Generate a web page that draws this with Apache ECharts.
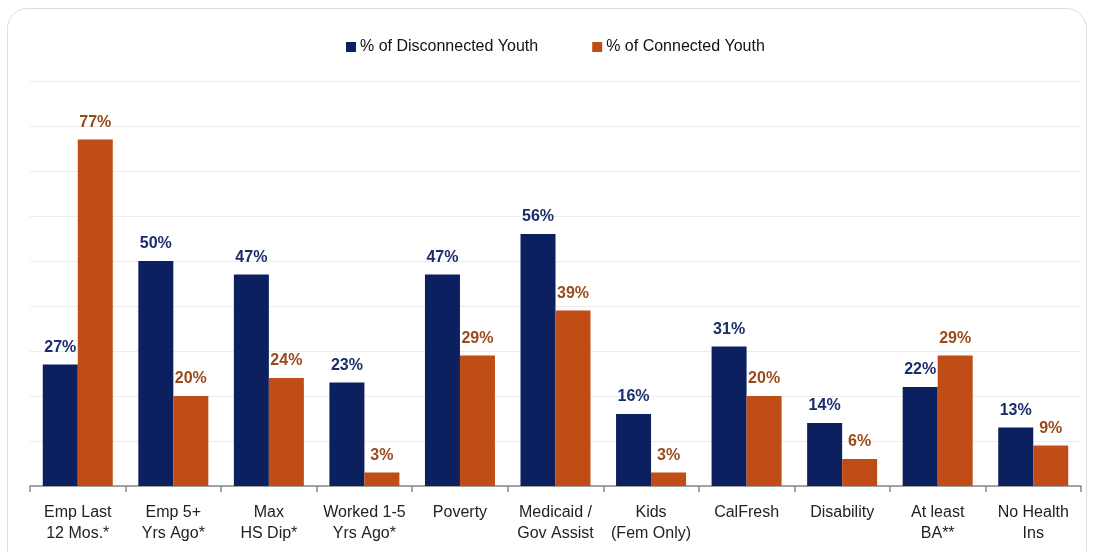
<!DOCTYPE html>
<html>
<head>
<meta charset="utf-8">
<script src="https://cdn.jsdelivr.net/npm/echarts@6/dist/echarts.min.js"></script>
<style>
html,body{margin:0;padding:0;background:#fff;}
#c{width:1094px;height:552px;}
</style>
</head>
<body>
<div id="c"></div>
<script>
const categories = ["Emp Last\n12 Mos.*", "Emp 5+\nYrs Ago*", "Max\nHS Dip*", "Worked 1-5\nYrs Ago*", "Poverty", "Medicaid /\nGov Assist", "Kids\n(Fem Only)", "CalFresh", "Disability", "At least\nBA**", "No Health\nIns"];
const disconnected = [27, 50, 47, 23, 47, 56, 16, 31, 14, 22, 13];
const connected = [77, 20, 24, 3, 29, 39, 3, 20, 6, 29, 9];
const seriesNames = ["% of Disconnected Youth", "% of Connected Youth"];

const chart = echarts.init(document.getElementById('c'), null, {renderer: 'canvas'});
const font = '"Liberation Sans", Arial, sans-serif';
chart.setOption({
  animation: false,
  backgroundColor: '#fff',
  graphic: [{
    type: 'rect',
    shape: {x: 7.5, y: 8.5, width: 1079, height: 560, r: 20},
    style: {fill: 'none', stroke: '#dddddd', lineWidth: 1},
    z: -1
  }],
  legend: {
    top: 34,
    left: 341,
    itemWidth: 10,
    itemHeight: 10,
    itemGap: 54,
    icon: 'rect',
    textStyle: {fontFamily: font, fontSize: 16, color: '#111', padding: [0, 0, 0, -1]},
    data: seriesNames
  },
  grid: {left: 30, right: 13, top: 81, bottom: 66},
  xAxis: {
    type: 'category',
    data: categories,
    axisLine: {lineStyle: {color: '#888', width: 1.5}},
    axisTick: {show: true, length: 6, lineStyle: {color: '#888', width: 1.5}},
    axisLabel: {fontFamily: font, fontSize: 16, color: '#222', lineHeight: 21, margin: 16, interval: 0}
  },
  yAxis: {
    type: 'value',
    min: 0, max: 90, interval: 10,
    axisLabel: {show: false},
    axisLine: {show: false},
    axisTick: {show: false},
    splitLine: {lineStyle: {color: '#ececec', width: 1}}
  },
  series: [
    {
      name: seriesNames[0], type: 'bar', data: disconnected,
      itemStyle: {color: '#0c1f5e'},
      barWidth: 35, barGap: '0%',
      label: {show: true, position: 'top', distance: 9, formatter: '{c}%', fontFamily: font, fontSize: 16, fontWeight: 'bold', color: '#1a2d6b'}
    },
    {
      name: seriesNames[1], type: 'bar', data: connected,
      itemStyle: {color: '#c04d15'},
      barWidth: 35, barGap: '0%',
      label: {show: true, position: 'top', distance: 9, formatter: '{c}%', fontFamily: font, fontSize: 16, fontWeight: 'bold', color: '#9a4a1b'}
    }
  ]
});
</script>
</body>
</html>
